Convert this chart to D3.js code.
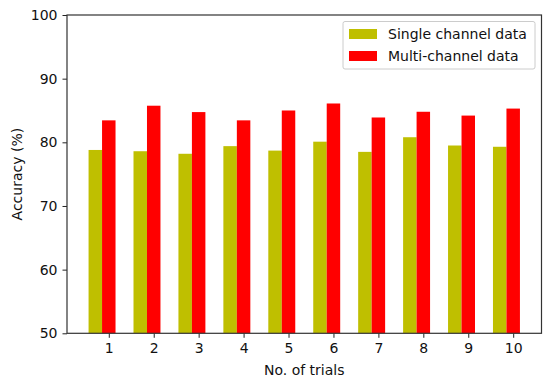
<!DOCTYPE html>
<html><head><meta charset="utf-8">
<script src="https://cdn.jsdelivr.net/npm/d3@7"></script>
<style>body{margin:0;background:#fff}svg text{font-family:"DejaVu Sans",sans-serif}</style>
</head><body><svg id="c" width="550" height="384"></svg>
<script>
const trials = [1,2,3,4,5,6,7,8,9,10];
const singleChannel = [78.8,78.6,78.2,79.4,78.7,80.1,78.5,80.8,79.5,79.3];
const multiChannel = [83.45,85.75,84.75,83.45,85.0,86.1,83.9,84.8,84.2,85.3];
const yTicks = [50,60,70,80,90,100];
const seriesNames = ["Single channel data","Multi-channel data"];
const colors = ["#bfbf00","#ff0000"];

const svg = d3.select("#c");
const L=67, R=541.5, T=15, B=333.3;
const x = d3.scaleLinear().domain([0.07,10.63]).range([L,R]);
const y = d3.scaleLinear().domain([50,100]).range([B,T]);
const bw = 0.3;

const g = svg.append("g");
g.selectAll("rect.s").data(trials).join("rect").attr("class","s")
  .attr("x",d=>x(d-bw-bw/2)).attr("width",x(bw)-x(0))
  .attr("y",(d,i)=>y(singleChannel[i])).attr("height",(d,i)=>y(50)-y(singleChannel[i]))
  .attr("fill",colors[0]);
g.selectAll("rect.m").data(trials).join("rect").attr("class","m")
  .attr("x",d=>x(d-bw/2)).attr("width",x(bw)-x(0))
  .attr("y",(d,i)=>y(multiChannel[i])).attr("height",(d,i)=>y(50)-y(multiChannel[i]))
  .attr("fill",colors[1]);

const xa = svg.append("g").attr("transform",`translate(0,${B})`)
  .call(d3.axisBottom(x).tickValues(trials).tickFormat(d3.format("d")).tickSize(4.5).tickPadding(5));
const ya = svg.append("g").attr("transform",`translate(${L},0)`)
  .call(d3.axisLeft(y).tickValues(yTicks).tickSize(4.5).tickPadding(5));
[xa,ya].forEach(a=>{a.select(".domain").remove();a.selectAll("text").attr("font-size",14).attr("fill","#111").attr("font-family","DejaVu Sans");a.selectAll("line").attr("stroke","#222");});

svg.append("rect").attr("x",L).attr("y",T).attr("width",R-L).attr("height",B-T)
  .attr("fill","none").attr("stroke","#333").attr("stroke-width",1.2);

svg.append("text").attr("x",(L+R)/2).attr("y",375).attr("text-anchor","middle")
  .attr("font-size",14).attr("fill","#111").text("No. of trials");
svg.append("text").attr("transform",`translate(22,${(T+B)/2}) rotate(-90)`).attr("text-anchor","middle")
  .attr("font-size",14).attr("fill","#111").text("Accuracy (%)");

const lg = svg.append("g");
lg.append("rect").attr("x",343).attr("y",21.5).attr("width",192).attr("height",47.5)
  .attr("fill","#fff").attr("fill-opacity",0.8).attr("stroke","#ccc").attr("rx",2);
seriesNames.forEach((n,i)=>{
  const cy = 34 + i*22;
  lg.append("rect").attr("x",349).attr("y",cy-5).attr("width",28).attr("height",10).attr("fill",colors[i]);
  lg.append("text").attr("x",388).attr("y",cy+5).attr("font-size",14).attr("fill","#111").text(n);
});
</script></body></html>
